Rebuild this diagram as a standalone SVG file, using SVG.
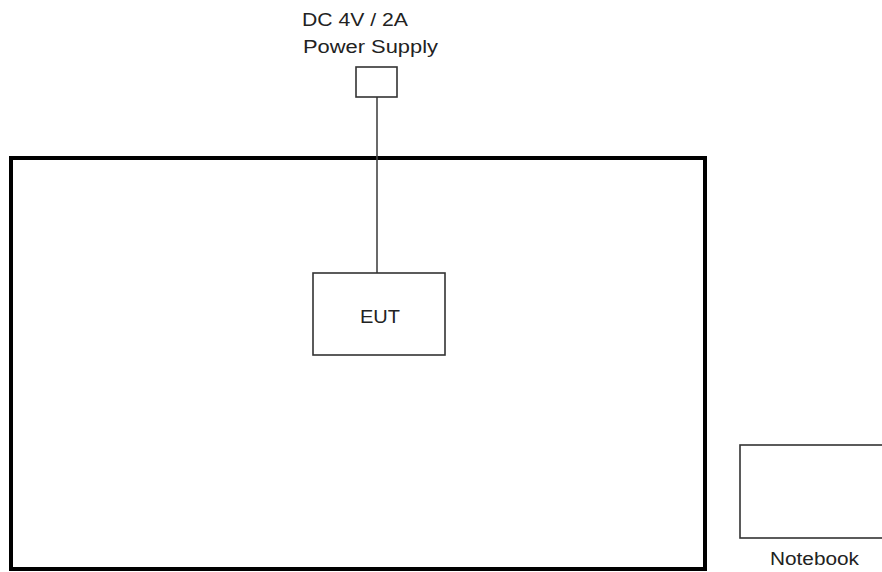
<svg xmlns="http://www.w3.org/2000/svg" width="882" height="572" viewBox="0 0 882 572">
<style>
text{font-family:"Liberation Sans",Arial,sans-serif;fill:#222}
.box{fill:#fff;stroke:#333;stroke-width:1.6}
.wire{stroke:#444;stroke-width:1.6;fill:none}
</style>
<rect x="0" y="0" width="882" height="572" fill="#fff"/>
<g id="table"><rect x="11" y="158" width="694" height="411" fill="none" stroke="#000" stroke-width="4"/></g>
<g id="connectors"><line class="wire" x1="377" y1="97" x2="377" y2="273"/></g>
<g id="power-supply">
<rect class="box" x="356" y="67" width="41" height="30"/>
<text x="302" y="26" font-size="18" textLength="106" lengthAdjust="spacingAndGlyphs">DC 4V / 2A</text>
<text x="303" y="53" font-size="18" textLength="135" lengthAdjust="spacingAndGlyphs">Power Supply</text>
</g>
<g id="eut">
<rect class="box" x="313" y="273" width="132" height="82"/>
<text x="360" y="323" font-size="19" textLength="40" lengthAdjust="spacingAndGlyphs">EUT</text>
</g>
<g id="notebook">
<rect class="box" x="740" y="445" width="150" height="93"/>
<text x="770" y="565" font-size="18" textLength="89" lengthAdjust="spacingAndGlyphs">Notebook</text>
</g>
</svg>
